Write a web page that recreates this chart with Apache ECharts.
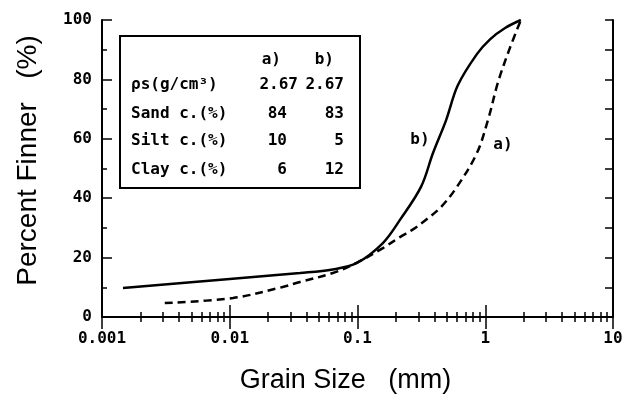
<!DOCTYPE html>
<html>
<head>
<meta charset="utf-8">
<script src="https://cdn.jsdelivr.net/npm/echarts@6/dist/echarts.min.js"></script>
<style>
  html, body { margin: 0; padding: 0; background: #fff; }
</style>
</head>
<body>
<div id="chart" style="width: 625px;height: 394px;"></div>
<script>
// grain size (mm) and percent finer
var sizeA = [0.0031, 0.0106, 0.026, 0.0355, 0.064, 0.099, 0.158, 0.215, 0.272, 0.35, 0.45, 0.6, 0.86, 1.05, 1.26, 1.56, 1.9]
var finerA = [4.7, 6.4, 10.1, 11.8, 14.8, 18.3, 23.2, 26.9, 29.5, 33, 37, 43.8, 55.2, 66.3, 79.1, 90.6, 100]
var sizeB = [0.00146, 0.01, 0.0355, 0.064, 0.099, 0.158, 0.215, 0.314, 0.39, 0.494, 0.61, 0.86, 1.09, 1.43, 1.9]
var finerB = [9.8, 12.8, 14.8, 16, 18.2, 24.9, 32.7, 43.8, 55.2, 66.3, 78, 88.5, 93.5, 97.3, 100]

var xTicks = [0.001, 0.01, 0.1, 1, 10]
var xTickLabels = ['0.001', '0.01', '0.1', '1', '10']

// table in the box
var rowNames = ['ρs(g/cm³)', 'Sand c.(%)', 'Silt c.(%)', 'Clay c.(%)']
var colA = ['2.67', '84', '10', '6']
var colB = ['2.67', '83', '5', '12']

var mono = '"DejaVu Sans Mono", monospace'
var sans = '"Liberation Sans", Arial, sans-serif'

function pairs (xs, ys) {
  var out = []
  for (var i = 0; i < xs.length; i++) out.push([xs[i], ys[i]])
  return out
}

function txt (x, y, s, align) {
  return {
    type: 'text', x: x, y: y,
    style: { text: s, font: 'bold 16px ' + mono, fill: '#000', align: align || 'left', verticalAlign: 'middle' }
  }
}

var tableGraphics = [{
  type: 'rect',
  shape: { x: 120, y: 36, width: 240, height: 152 },
  style: { fill: '#fff', stroke: '#000', lineWidth: 2 }
}, txt(281, 60, 'a)', 'right'), txt(334, 60, 'b)', 'right')]
var rowY = [85, 114, 141, 170]
for (var r = 0; r < rowNames.length; r++) {
  tableGraphics.push(txt(131, rowY[r], rowNames[r]))
  tableGraphics.push(txt(r === 0 ? 298 : 287, rowY[r], colA[r], 'right'))
  tableGraphics.push(txt(344, rowY[r], colB[r], 'right'))
}
// curve labels
tableGraphics.push(txt(420, 140, 'b)', 'center'))
tableGraphics.push(txt(503, 145, 'a)', 'center'))

var logAxisCommon = {
  type: 'log',
  logBase: 10,
  min: 0.001,
  max: 10,
  axisLine: { show: true, lineStyle: { color: '#000', width: 2 } },
  axisTick: { show: true, inside: true, length: 12, lineStyle: { color: '#000', width: 1.5 } },
  minorTick: { show: true, splitNumber: 9, length: 5, lineStyle: { color: '#000', width: 1.5 } },
  splitLine: { show: false },
  minorSplitLine: { show: false }
}

var option = {
  animation: false,
  backgroundColor: '#fff',
  grid: { left: 102, right: 12, top: 20, bottom: 77, outerBoundsMode: 'none' },
  xAxis: [
    Object.assign({}, logAxisCommon, {
      position: 'bottom',
      name: 'Grain Size   (mm)',
      nameLocation: 'middle',
      nameGap: 50,
      nameTextStyle: { fontFamily: sans, fontSize: 27, color: '#000', padding: [0, 24, 0, 0] },
      axisLabel: {
        margin: 14,
        fontFamily: mono, fontWeight: 'bold', fontSize: 16, color: '#000',
        formatter: function (v) {
          var i = xTicks.indexOf(v)
          return i >= 0 ? xTickLabels[i] : ''
        }
      }
    }),
    Object.assign({}, logAxisCommon, {
      position: 'top',
      axisLabel: { show: false }
    })
  ],
  yAxis: [{
    type: 'value',
    position: 'left',
    min: 0,
    max: 100,
    interval: 20,
    name: 'Percent Finner   (%)',
    nameLocation: 'middle',
    nameGap: 60,
    nameTextStyle: { fontFamily: sans, fontSize: 28, color: '#000', padding: [0, 0, 0, 16] },
    axisLine: { show: true, lineStyle: { color: '#000', width: 2 } },
    axisTick: { show: true, inside: true, length: 10, lineStyle: { color: '#000', width: 1.5 } },
    minorTick: { show: true, splitNumber: 2, length: 5, lineStyle: { color: '#000', width: 1.5 } },
    splitLine: { show: false },
    axisLabel: { margin: 10, fontFamily: mono, fontWeight: 'bold', fontSize: 16, color: '#000' }
  }, {
    type: 'value',
    position: 'right',
    min: 0,
    max: 100,
    interval: 10,
    axisLine: { show: true, lineStyle: { color: '#000', width: 2 } },
    axisTick: { show: true, inside: true, length: 8, lineStyle: { color: '#000', width: 1.5 } },
    splitLine: { show: false },
    axisLabel: { show: false }
  }],
  series: [{
    name: 'a)',
    type: 'line',
    data: pairs(sizeA, finerA),
    smooth: 0.35,
    symbol: 'none',
    lineStyle: { color: '#000', width: 2.5, type: [8, 5] }
  }, {
    name: 'b)',
    type: 'line',
    data: pairs(sizeB, finerB),
    smooth: 0.35,
    symbol: 'none',
    lineStyle: { color: '#000', width: 2.5 }
  }],
  graphic: tableGraphics
}

var myChart = echarts.init(document.getElementById('chart'))
myChart.setOption(option)
</script>
</body>
</html>
